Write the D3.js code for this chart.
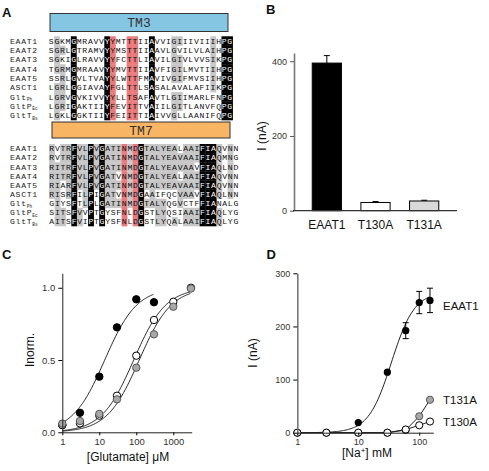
<!DOCTYPE html>
<html><head><meta charset="utf-8">
<script src="https://cdn.jsdelivr.net/npm/d3@7"></script>
<style>body{margin:0;background:#fff}</style>
</head><body><svg id="c" width="489" height="471"></svg>
<script>
// ---------------- DATA ----------------
const rowNames = ["EAAT1","EAAT2","EAAT3","EAAT4","EAAT5","ASCT1","Glt|Ph","GltP|Ec","GltT|Bs"];
const tm3Seqs = [
  "SGKMGMRAVVYYMTTTIIAVVIGIIIVIIIHPG",
  "SGRLGTRAMVYYMSTTIIAAVLGVILVLAIHPG",
  "SGKIGLRAVVYYFCTTLIAVILGIVLVVSIKPG",
  "TGRMGMRAAVYYMVTTIIAVFIGILMVTIIHPG",
  "SSRLGVLTVAYYLWTTFMAVIVGIFMVSIIHPG",
  "LGRLGGIAVAYFGLTTLSASALAVALAFIIKPG",
  "LGRVGVKIVVYYLLTSAFAVTLGIIMARLFNPG",
  "LGRIGAKTIIYFEVITTVAIILGITLANVFQPG",
  "LGKLGGKTIIYFEIITTIAIVVGLLAANIFQPG"
];
const tm7Seqs = [
  "RVTRFVLPVGATINMDGTALYEALAAIFIAQVNN",
  "RVTRFVLPVGATINMDGTALYEAVAAIFIAQMNG",
  "RITRFVLPVGATINMDGTALYEAVAAVFIAQLND",
  "RITRFVLPVGATVNMDGTALYEALAAIFIAQVNN",
  "RIARFVLPVGATINMDGTALYEAVAAIFIAQVNN",
  "RISRFILPIGATVNMDGAAIFQCVAAVFIAQLNN",
  "GIYSFTLPLGATINMDGTALYQGVCTFFIANALG",
  "SITSFVVPTGYSFNLDGSTLYQSIAAIFIAQLYG",
  "AITSFVIPTGYSFNLDGSTLYQALAAIFIAQLYG"
];
const tm3RedCols = [11, 14, 15];
const tm7RedCols = [13, 15];
const tm3GrayThreshold = 6;
const tm7GrayThreshold = 5;

const barCats = ["EAAT1", "T130A", "T131A"];
const barVals = [395, 22, 26];
const barErrs = [20, 2.5, 2];
const barFills = ["#000000", "#ffffff", "#d9d9d9"];
const barTicks = [0, 200, 400];

const gluConc = [1, 3, 10, 30, 100, 300, 1000, 3000];
const gluEAAT1 = [0.05, 0.135, 0.385, 0.726, 0.92, 0.90, null, null];
const gluT130A = [0.05, 0.062, 0.115, 0.253, 0.53, 0.777, 0.903, 1.0];
const gluT131A = [0.06, 0.078, 0.127, 0.228, 0.447, 0.678, 0.869, 0.995];
const gluFitEC50 = [14, 85, 120];
const gluFitHill = [1.0, 1.0, 1.0];
const gluFitMax = [300, 3000, 3000];
const gluTicksY = [0, 0.5, 1.0];
const gluTicksX = [1, 10, 100, 1000];

const naConc = [1, 3, 10, 30, 60, 100, 150];
const naEAAT1 = [0, 0, 19, 114, 192, 245, 249];
const naEAAT1Err = [0, 0, 0, 0, 15, 21, 23];
const naT130A = [0, 0, 0, 0, 6, 14, 21];
const naT131A = [0, 0, 0, 0, 5, 31, 62];
const naFit = {imax: 265, k: 35, n: 2.3};
const naTicksY = [0, 100, 200, 300];
const naTicksX = [1, 10, 100];
const naLabels = ["EAAT1", "T131A", "T130A"];

// ---------------- DRAW ----------------
const svg = d3.select("#c");
svg.append("rect").attr("width", 489).attr("height", 471).attr("fill", "#fff");
const SANS = "'Liberation Sans', Arial, Helvetica, sans-serif";
const MONO = "'Liberation Mono', 'Courier New', monospace";

function panelLetter(t, x, y) {
  svg.append("text").attr("x", x).attr("y", y).text(t)
    .attr("font-family", SANS).attr("font-weight", "bold").attr("font-size", 13).attr("fill", "#111");
}
panelLetter("A", 2, 17);
panelLetter("B", 266, 14);
panelLetter("C", 2, 258.5);
panelLetter("D", 266.5, 258.5);

// ---- Panel A ----
const SEQ_FS = 8.1;
function alignBlock(seqs, redCols, thr, o) {
  const n = seqs[0].length;
  const xCol = d3.scaleBand().domain(d3.range(n)).range([o.x0, o.x0 + n * o.cw]);
  const yRow = d3.scaleBand().domain(rowNames).range([o.y0, o.y1]);
  const g = svg.append("g");
  g.append("rect").attr("x", o.bx0).attr("y", o.by0)
    .attr("width", o.bx1 - o.bx0).attr("height", o.by1 - o.by0)
    .attr("fill", o.fill).attr("stroke", "#333").attr("stroke-width", 1);
  g.append("text").attr("x", (o.bx0 + o.bx1) / 2).attr("y", (o.by0 + o.by1) / 2 + 4.5)
    .attr("text-anchor", "middle").attr("font-family", MONO).attr("font-size", 13)
    .attr("fill", "#333").text(o.label);

  const colInfo = d3.range(n).map(c => {
    const counts = d3.rollup(seqs.map(s => s[c]), v => v.length, d => d);
    let best = null, bc = 0;
    counts.forEach((v, k) => { if (v > bc) { bc = v; best = k; } });
    return {best, bc};
  });
  const cells = [];
  seqs.forEach((s, r) => {
    for (let c = 0; c < n; c++) {
      let fill = null, txt = "#111";
      if (redCols.includes(c)) fill = "#e9797b";
      else if (colInfo[c].bc === seqs.length) { fill = "#000"; txt = "#fff"; }
      else if (colInfo[c].bc >= thr && s[c] === colInfo[c].best) fill = "#c6c6c6";
      cells.push({r: rowNames[r], c, ch: s[c], fill, txt});
    }
  });
  g.selectAll("rect.cell").data(cells.filter(d => d.fill)).join("rect")
    .attr("class", "cell")
    .attr("x", d => xCol(d.c)).attr("y", d => yRow(d.r))
    .attr("width", xCol.bandwidth() + 0.3).attr("height", yRow.bandwidth() + 0.3)
    .attr("fill", d => d.fill);
  const ls = o.cw - 0.6 * SEQ_FS;
  rowNames.forEach((nm, r) => {
    const yb = yRow(nm) + yRow.bandwidth() / 2 + 2.8;
    const t = g.append("text").attr("x", xCol(0) + ls / 2).attr("y", yb)
      .attr("font-family", MONO).attr("font-size", SEQ_FS).attr("letter-spacing", ls)
      .attr("xml:space", "preserve");
    const rowCells = cells.filter(d => d.r === nm);
    let runs = [];
    rowCells.forEach(d => {
      if (runs.length && runs[runs.length - 1].txt === d.txt) runs[runs.length - 1].s += d.ch;
      else runs.push({txt: d.txt, s: d.ch});
    });
    runs.forEach(ru => t.append("tspan").attr("fill", ru.txt).text(ru.s));
    const parts = nm.split("|");
    const tn = g.append("text").attr("x", 10).attr("y", yb)
      .attr("font-family", MONO).attr("font-size", SEQ_FS).attr("letter-spacing", ls).attr("fill", "#222");
    tn.append("tspan").text(parts[0]);
    if (parts[1]) tn.append("tspan").attr("font-size", 4.5).attr("letter-spacing", 0).attr("dy", 1.5).text(parts[1]);
  });
}
alignBlock(tm3Seqs, tm3RedCols, tm3GrayThreshold,
  {x0: 48.5, cw: 5.58, y0: 36.3, y1: 120, bx0: 50, bx1: 228, by0: 13.5, by1: 31.5,
   fill: "#85c6e2", label: "TM3"});
alignBlock(tm7Seqs, tm7RedCols, tm7GrayThreshold,
  {x0: 49, cw: 5.58, y0: 144, y1: 226, bx0: 52, bx1: 230, by0: 122, by1: 138,
   fill: "#f8b563", label: "TM7"});

// ---- Panel B ----
(function () {
  const xB = d3.scaleBand().domain(barCats).range([302.5, 448.5]).paddingInner(0.4).paddingOuter(0.2);
  const yB = d3.scaleLinear().domain([0, 422]).range([210.7, 53]);
  const g = svg.append("g");
  g.selectAll("line.err").data(barCats).join("line")
    .attr("x1", d => xB(d) + xB.bandwidth() / 2).attr("x2", d => xB(d) + xB.bandwidth() / 2)
    .attr("y1", (d, i) => yB(barVals[i])).attr("y2", (d, i) => yB(barVals[i] + barErrs[i]))
    .attr("stroke", "#000").attr("stroke-width", 1);
  g.selectAll("line.cap").data(barCats).join("line")
    .attr("x1", d => xB(d) + xB.bandwidth() / 2 - 3).attr("x2", d => xB(d) + xB.bandwidth() / 2 + 3)
    .attr("y1", (d, i) => yB(barVals[i] + barErrs[i])).attr("y2", (d, i) => yB(barVals[i] + barErrs[i]))
    .attr("stroke", "#000").attr("stroke-width", 1);
  g.selectAll("rect.bar").data(barCats).join("rect")
    .attr("x", d => xB(d)).attr("width", xB.bandwidth())
    .attr("y", (d, i) => yB(barVals[i])).attr("height", (d, i) => yB(0) - yB(barVals[i]))
    .attr("fill", (d, i) => barFills[i]).attr("stroke", "#000").attr("stroke-width", 1);
  const ya = g.append("g").attr("transform", "translate(294,0)")
    .call(d3.axisLeft(yB).tickValues(barTicks).tickSize(4).tickSizeOuter(0));
  ya.select(".domain").attr("stroke", "#777").attr("stroke-width", 1.6);
  ya.selectAll(".tick line").attr("stroke", "#555");
  ya.selectAll("text").attr("font-family", SANS).attr("font-size", 9).attr("fill", "#333");
  g.append("line").attr("x1", 293).attr("x2", 457).attr("y1", yB(0)).attr("y2", yB(0))
    .attr("stroke", "#333").attr("stroke-width", 1.2);
  const xa = g.append("g").attr("transform", `translate(0,${yB(0)})`)
    .call(d3.axisBottom(xB).tickSize(0).tickPadding(10));
  xa.select(".domain").remove();
  xa.selectAll("text").attr("font-family", SANS).attr("font-size", 12).attr("fill", "#111");
  g.append("text").attr("transform", "translate(266,136) rotate(-90)")
    .attr("text-anchor", "middle").attr("font-family", SANS).attr("font-size", 12).attr("fill", "#111")
    .text("I (nA)");
})();

// ---- Panel C ----
(function () {
  const xC = d3.scaleLog().domain([1, 3140]).range([62.3, 191.7]);
  const yC = d3.scaleLinear().domain([0, 1.1]).range([432.3, 273.3]);
  const g = svg.append("g");
  const fills = ["#000", "#fff", "#a8a8a8"];
  const strokes = ["#000", "#000", "#555"];
  [0, 1, 2].forEach(i => {
    const xs = d3.range(0, Math.log10(gluFitMax[i]) + 0.0001, 0.02).map(e => Math.pow(10, e));
    const line = d3.line().x(d => xC(d)).y(d => {
      const r = Math.pow(d / gluFitEC50[i], gluFitHill[i]);
      return yC(r / (1 + r));
    });
    g.append("path").attr("d", line(xs)).attr("fill", "none").attr("stroke", "#222").attr("stroke-width", 1);
  });
  [gluEAAT1, gluT130A, gluT131A].forEach((ser, i) => {
    g.selectAll(null).data(gluConc.map((c, j) => ({c, v: ser[j]})).filter(d => d.v != null))
      .join("circle").attr("cx", d => xC(d.c)).attr("cy", d => yC(d.v)).attr("r", 3.7)
      .attr("fill", fills[i]).attr("stroke", strokes[i]).attr("stroke-width", 1);
  });
  const ya = g.append("g").attr("transform", `translate(${xC(1)},0)`)
    .call(d3.axisLeft(yC).tickValues(gluTicksY).tickFormat(d3.format(".1f")).tickSize(4).tickSizeOuter(0));
  const xa = g.append("g").attr("transform", `translate(0,${yC(0)})`)
    .call(d3.axisBottom(xC).tickValues(gluTicksX).tickFormat(d3.format("d")).tickSize(3).tickSizeOuter(0));
  [ya, xa].forEach(a => {
    a.select(".domain").attr("stroke", "#222");
    a.selectAll("text").attr("font-family", SANS).attr("font-size", 9.5).attr("fill", "#333");
  });
  g.append("text").attr("transform", "translate(34,350) rotate(-90)")
    .attr("text-anchor", "middle").attr("font-family", SANS).attr("font-size", 12).attr("fill", "#111")
    .text("Inorm.");
  g.append("text").attr("x", 128).attr("y", 461).attr("text-anchor", "middle")
    .attr("font-family", SANS).attr("font-size", 12).attr("fill", "#111").text("[Glutamate] μM");
})();

// ---- Panel D ----
(function () {
  const xD = d3.scaleLog().domain([1, 170]).range([297.3, 433.3]);
  const yD = d3.scaleLinear().domain([0, 300]).range([432.7, 273.3]);
  const g = svg.append("g");
  const xs = d3.range(0, Math.log10(150) + 0.0001, 0.02).map(e => Math.pow(10, e));
  const fit = d3.line().x(d => xD(d)).y(d => {
    const r = Math.pow(d / naFit.k, naFit.n);
    return yD(naFit.imax * r / (1 + r));
  });
  g.append("path").attr("d", fit(xs)).attr("fill", "none").attr("stroke", "#222").attr("stroke-width", 1);
  naConc.forEach((c, j) => {
    if (!naEAAT1Err[j]) return;
    const x = xD(c);
    g.append("line").attr("x1", x).attr("x2", x).attr("y1", yD(naEAAT1[j] - naEAAT1Err[j])).attr("y2", yD(naEAAT1[j] + naEAAT1Err[j])).attr("stroke", "#000");
    [-1, 1].forEach(s => g.append("line").attr("x1", x - 3).attr("x2", x + 3)
      .attr("y1", yD(naEAAT1[j] + s * naEAAT1Err[j])).attr("y2", yD(naEAAT1[j] + s * naEAAT1Err[j])).attr("stroke", "#000"));
  });
  const ln = d3.line().x((d, j) => xD(naConc[j])).y(d => yD(d));
  g.selectAll(null).data(naConc).join("circle").attr("cx", d => xD(d)).attr("cy", (d, j) => yD(naEAAT1[j]))
    .attr("r", 3.6).attr("fill", "#000");
  g.append("path").attr("d", ln(naT131A)).attr("fill", "none").attr("stroke", "#222");
  g.selectAll(null).data(naConc).join("circle").attr("cx", d => xD(d)).attr("cy", (d, j) => yD(naT131A[j]))
    .attr("r", 3.6).attr("fill", "#a8a8a8").attr("stroke", "#555");
  g.append("path").attr("d", ln(naT130A)).attr("fill", "none").attr("stroke", "#222");
  g.selectAll(null).data(naConc).join("circle").attr("cx", d => xD(d)).attr("cy", (d, j) => yD(naT130A[j]))
    .attr("r", 3.6).attr("fill", "#fff").attr("stroke", "#000");
  const ya = g.append("g").attr("transform", `translate(${xD(1)},0)`)
    .call(d3.axisLeft(yD).tickValues(naTicksY).tickSize(4).tickSizeOuter(0));
  ya.select(".domain").attr("stroke", "#777").attr("stroke-width", 1.6);
  const xa = g.append("g").attr("transform", `translate(0,${yD(0)})`)
    .call(d3.axisBottom(xD).tickValues(naTicksX).tickFormat(d3.format("d")).tickSize(3).tickSizeOuter(0));
  xa.select(".domain").attr("stroke", "#222");
  [ya, xa].forEach(a => a.selectAll("text").attr("font-family", SANS).attr("font-size", 9).attr("fill", "#333"));
  const labY = [yD(naEAAT1[6]) + 10, yD(naT131A[6]) + 4, yD(naT130A[6]) + 4];
  g.selectAll(null).data(naLabels).join("text").attr("x", 443).attr("y", (d, i) => labY[i])
    .attr("font-family", SANS).attr("font-size", 11.5).attr("fill", "#111").text(d => d);
  g.append("text").attr("transform", "translate(257,353) rotate(-90)")
    .attr("text-anchor", "middle").attr("font-family", SANS).attr("font-size", 12).attr("fill", "#111")
    .text("I (nA)");
  const t = g.append("text").attr("x", 367).attr("y", 457).attr("text-anchor", "middle")
    .attr("font-family", SANS).attr("font-size", 12).attr("fill", "#111");
  t.append("tspan").text("[Na");
  t.append("tspan").attr("font-size", 8).attr("dy", -4).text("+");
  t.append("tspan").attr("dy", 4).text("] mM");
})();
</script></body></html>
